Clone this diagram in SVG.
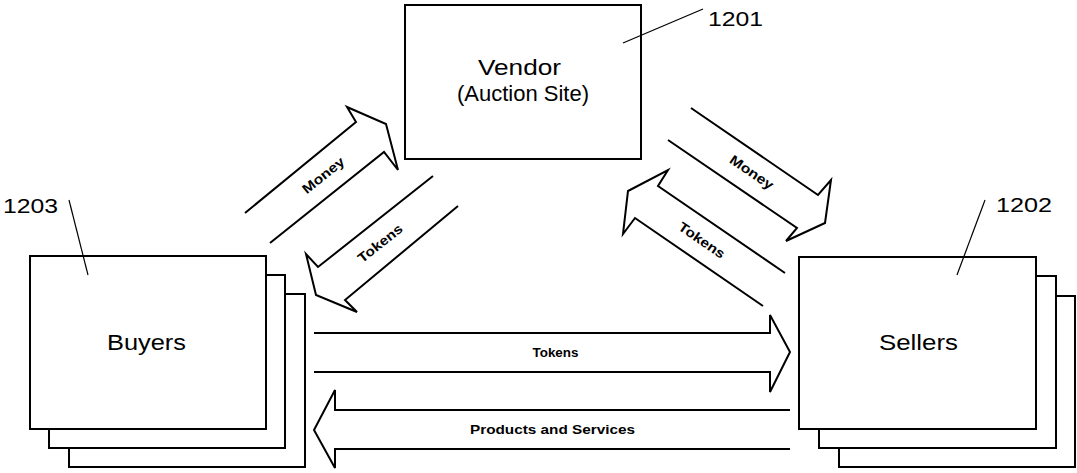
<svg xmlns="http://www.w3.org/2000/svg" width="1077" height="473" viewBox="0 0 1077 473">
  <style>
    .box { fill: #fff; stroke: #000; stroke-width: 2; }
    .lead { fill: none; stroke: #000; stroke-width: 1.2; }
    .flow { fill: none; stroke: #000; stroke-width: 2; stroke-linejoin: miter; }
    .big { font-family: "Liberation Sans", Arial, sans-serif; font-size: 22px; fill: #000; }
    .num { font-family: "Liberation Sans", Arial, sans-serif; font-size: 20px; fill: #000; }
    .small { font-family: "Liberation Sans", Arial, sans-serif; font-size: 13.5px; font-weight: bold; fill: #000; text-anchor: middle; }
  </style>
  <rect width="1077" height="473" fill="#fff"/>

  <!-- Vendor / auction site -->
  <g id="vendor">
    <rect class="box" x="405" y="5" width="236" height="154"/>
    <text class="big" x="478" y="75" textLength="83" lengthAdjust="spacingAndGlyphs">Vendor</text>
    <text class="big" x="457" y="101" textLength="132" lengthAdjust="spacingAndGlyphs">(Auction Site)</text>
    <line class="lead" x1="623" y1="43" x2="703" y2="9"/>
    <text class="num" x="708" y="26" textLength="55" lengthAdjust="spacingAndGlyphs">1201</text>
  </g>

  <!-- Buyers stack -->
  <g id="buyers">
    <rect class="box" x="69" y="294" width="236" height="173"/>
    <rect class="box" x="49" y="275" width="236" height="173"/>
    <rect class="box" x="30" y="256" width="236" height="173"/>
    <text class="big" x="107" y="350" textLength="79" lengthAdjust="spacingAndGlyphs">Buyers</text>
    <line class="lead" x1="69" y1="200" x2="88" y2="275"/>
    <text class="num" x="3" y="213" textLength="55" lengthAdjust="spacingAndGlyphs">1203</text>
  </g>

  <!-- Sellers stack -->
  <g id="sellers">
    <rect class="box" x="839" y="296" width="236" height="171"/>
    <rect class="box" x="819" y="276" width="237" height="172"/>
    <rect class="box" x="799" y="257" width="237" height="172"/>
    <text class="big" x="879" y="350" textLength="79" lengthAdjust="spacingAndGlyphs">Sellers</text>
    <line class="lead" x1="985" y1="200" x2="957" y2="275"/>
    <text class="num" x="996" y="212" textLength="56" lengthAdjust="spacingAndGlyphs">1202</text>
  </g>

  <!-- Block arrows between parties -->
  <g id="connectors">
    <!-- buyers to vendor: money -->
    <path class="flow" d="M245,213 L356,122 L347,107 L386,124 L398,170 L384,152 L270,243"/>
    <text class="small" transform="translate(323,175) rotate(-39)" y="5" textLength="50" lengthAdjust="spacingAndGlyphs">Money</text>

    <!-- vendor to buyers: tokens -->
    <path class="flow" d="M433,176 L318,267 L306,254 L316,295 L357,312 L345,300 L458,206"/>
    <text class="small" transform="translate(380,243) rotate(-38.5)" y="5" textLength="53" lengthAdjust="spacingAndGlyphs">Tokens</text>

    <!-- vendor to sellers: money -->
    <path class="flow" d="M691,108 L818,195 L831,180 L825,223 L786,241 L797,228 L668,140"/>
    <text class="small" transform="translate(752,172) rotate(34.5)" y="5" textLength="50" lengthAdjust="spacingAndGlyphs">Money</text>

    <!-- sellers to vendor: tokens -->
    <path class="flow" d="M785,273 L658,186 L668,170 L628,191 L623,234 L635,218 L763,306"/>
    <text class="small" transform="translate(702,240) rotate(34.5)" y="5" textLength="53" lengthAdjust="spacingAndGlyphs">Tokens</text>

    <!-- buyers to sellers: tokens -->
    <path class="flow" d="M314,333 L770,333 L770,315 L790,352 L770,392 L770,372 L314,372"/>
    <text class="small" x="555.5" y="357" textLength="46" lengthAdjust="spacingAndGlyphs">Tokens</text>

    <!-- sellers to buyers: products and services -->
    <path class="flow" d="M790,410 L335,410 L335,390 L314,430 L335,468 L335,449 L790,449"/>
    <text class="small" x="552.5" y="434" textLength="165" lengthAdjust="spacingAndGlyphs">Products and Services</text>
  </g>
</svg>
